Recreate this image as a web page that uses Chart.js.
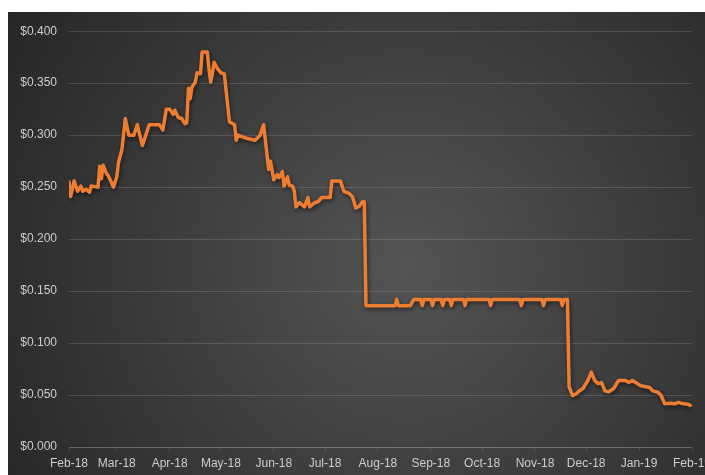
<!DOCTYPE html>
<html>
<head>
<meta charset="utf-8">
<script src="https://cdn.jsdelivr.net/npm/chart.js@4.4.1/dist/chart.umd.min.js"></script>
<style>
  html, body { margin: 0; padding: 0; background: #fff; overflow: hidden; }
  #wrap { position: absolute; left: 8px; top: 12px; width: 712px; height: 463px; }
</style>
</head>
<body>
<div id="wrap"><canvas id="chart"></canvas></div>
<script>
// price history
const dates = [
  '2018-02-01','2018-02-02','2018-02-04','2018-02-06','2018-02-08','2018-02-09','2018-02-11','2018-02-13',
  '2018-02-14','2018-02-18','2018-02-19','2018-02-20','2018-02-21','2018-02-23','2018-02-24','2018-02-26',
  '2018-02-27','2018-03-01','2018-03-02','2018-03-04','2018-03-06','2018-03-08','2018-03-11','2018-03-13',
  '2018-03-16','2018-03-18','2018-03-20','2018-03-26','2018-03-28','2018-03-30','2018-04-01','2018-04-03',
  '2018-04-04','2018-04-06','2018-04-08','2018-04-10','2018-04-11','2018-04-12','2018-04-13','2018-04-14',
  '2018-04-16','2018-04-17','2018-04-19','2018-04-20','2018-04-23','2018-04-24','2018-04-25','2018-04-26',
  '2018-04-27','2018-04-29','2018-05-01','2018-05-03','2018-05-06','2018-05-09','2018-05-10','2018-05-11',
  '2018-05-16','2018-05-21','2018-05-24','2018-05-26','2018-05-29','2018-05-30','2018-06-01','2018-06-03',
  '2018-06-04','2018-06-06','2018-06-07','2018-06-09','2018-06-10','2018-06-12','2018-06-13','2018-06-14',
  '2018-06-16','2018-06-19','2018-06-21','2018-06-22','2018-06-25','2018-06-27','2018-06-29','2018-07-04',
  '2018-07-05','2018-07-10','2018-07-12','2018-07-15','2018-07-17','2018-07-18','2018-07-19','2018-07-21',
  '2018-07-23','2018-07-24','2018-07-25','2018-08-11','2018-08-12','2018-08-13','2018-08-20','2018-08-22',
  '2018-08-26','2018-08-27','2018-08-28','2018-09-01','2018-09-02','2018-09-03','2018-09-07','2018-09-08',
  '2018-09-09','2018-09-12','2018-09-13','2018-09-14','2018-09-20','2018-09-21','2018-09-22','2018-10-05',
  '2018-10-06','2018-10-07','2018-10-23','2018-10-24','2018-10-25','2018-11-05','2018-11-06','2018-11-07',
  '2018-11-16','2018-11-17','2018-11-18','2018-11-20','2018-11-21','2018-11-23','2018-11-25','2018-11-27',
  '2018-11-29','2018-12-02','2018-12-04','2018-12-06','2018-12-08','2018-12-10','2018-12-12','2018-12-14',
  '2018-12-17','2018-12-20','2018-12-24','2018-12-26','2018-12-28','2018-12-30','2019-01-02','2019-01-05',
  '2019-01-07','2019-01-09','2019-01-12','2019-01-14','2019-01-16','2019-01-19','2019-01-22','2019-01-24',
  '2019-01-27','2019-01-30','2019-01-31'
];
const prices = [
  0.255,0.241,0.256,0.246,0.251,0.246,0.248,0.245,
  0.251,0.250,0.270,0.258,0.271,0.263,0.261,0.254,
  0.250,0.260,0.274,0.286,0.316,0.300,0.300,0.310,
  0.290,0.300,0.310,0.310,0.305,0.325,0.325,0.320,
  0.324,0.317,0.316,0.311,0.312,0.345,0.335,0.346,
  0.351,0.360,0.359,0.380,0.380,0.364,0.351,0.359,
  0.370,0.364,0.360,0.359,0.313,0.310,0.295,0.300,
  0.297,0.295,0.300,0.310,0.267,0.275,0.257,0.262,
  0.259,0.265,0.251,0.260,0.252,0.251,0.246,0.231,
  0.235,0.231,0.240,0.231,0.235,0.236,0.240,0.240,
  0.256,0.256,0.246,0.244,0.241,0.236,0.230,0.2315,
  0.236,0.236,0.136,0.136,0.142,0.136,0.136,0.142,
  0.142,0.136,0.142,0.142,0.136,0.142,0.142,0.136,
  0.142,0.142,0.136,0.142,0.142,0.136,0.142,0.142,
  0.136,0.142,0.142,0.136,0.142,0.142,0.136,0.142,
  0.142,0.136,0.142,0.142,0.058,0.0495,0.051,0.054,
  0.056,0.064,0.072,0.064,0.061,0.062,0.054,0.053,
  0.056,0.064,0.064,0.062,0.064,0.062,0.059,0.058,
  0.0575,0.054,0.0527,0.0495,0.0415,0.042,0.0415,0.043,
  0.0415,0.041,0.040
];

const monthStarts = ['2018-02-01','2018-03-01','2018-04-01','2018-05-01','2018-06-01','2018-07-01',
  '2018-08-01','2018-09-01','2018-10-01','2018-11-01','2018-12-01','2019-01-01','2019-02-01'];
const monthLabels = ['Feb-18','Mar-18','Apr-18','May-18','Jun-18','Jul-18',
  'Aug-18','Sep-18','Oct-18','Nov-18','Dec-18','Jan-19','Feb-19'];

const yMin = 0, yMax = 0.4, yStep = 0.05;

// days since the first month start
const t0 = Date.parse(monthStarts[0] + 'T00:00:00Z');
const dayOf = s => Math.round((Date.parse(s + 'T00:00:00Z') - t0) / 86400000);
const monthDays = monthStarts.map(dayOf);

const points = dates.map((d, i) => ({ x: dayOf(d), y: prices[i] }));

const gridColor = 'rgba(255,255,255,0.14)';
const textColor = '#cdcdcd';

const bgPlugin = {
  id: 'bg',
  beforeDraw(chart) {
    const { ctx, width, height } = chart;
    const cx = width * 0.56, cy = height * 0.55;
    const g = ctx.createRadialGradient(cx, cy, 0, cx, cy, Math.hypot(cx, cy) * 1.02);
    g.addColorStop(0, '#545454');
    g.addColorStop(1, '#252525');
    ctx.save();
    ctx.fillStyle = g;
    ctx.fillRect(0, 0, width, height);
    ctx.restore();
  }
};

const shadowPlugin = {
  id: 'lineShadow',
  beforeDatasetsDraw(chart) {
    const ctx = chart.ctx;
    ctx.save();
    ctx.shadowColor = 'rgba(0,0,0,0.55)';
    ctx.shadowBlur = 4;
    ctx.shadowOffsetX = 1;
    ctx.shadowOffsetY = 2;
  },
  afterDatasetsDraw(chart) {
    chart.ctx.restore();
  }
};

new Chart(document.getElementById('chart'), {
  type: 'line',
  data: {
    datasets: [{
      data: points,
      borderColor: '#ED7D31',
      borderWidth: 3.5,
      borderJoinStyle: 'round',
      borderCapStyle: 'round',
      pointRadius: 0,
      tension: 0,
      fill: false
    }]
  },
  options: {
    responsive: true,
    maintainAspectRatio: false,
    animation: false,
    layout: { padding: { top: 17, left: 0, right: 28, bottom: 0 } },
    plugins: { legend: { display: false }, tooltip: { enabled: false } },
    scales: {
      x: {
        type: 'linear',
        min: monthDays[0],
        max: monthDays[monthDays.length - 1],
        afterBuildTicks: s => { s.ticks = monthDays.map(v => ({ value: v })); },
        afterFit: s => { s.height = 28; },
        ticks: {
          autoSkip: false,
          maxRotation: 0,
          padding: 5,
          color: textColor,
          font: { family: 'Liberation Sans', size: 12 },
          callback: (v) => monthLabels[monthDays.indexOf(v)] ?? ''
        },
        grid: { drawOnChartArea: false, drawTicks: true, tickLength: 4, color: gridColor },
        border: { display: true, color: gridColor }
      },
      y: {
        min: yMin,
        max: yMax,
        afterFit: s => { s.width = 61; },
        ticks: {
          stepSize: yStep,
          padding: 12,
          color: textColor,
          font: { family: 'Liberation Sans', size: 12 },
          callback: v => '$' + Number(v).toFixed(3)
        },
        grid: { color: gridColor, drawTicks: false },
        border: { display: false }
      }
    }
  },
  plugins: [bgPlugin, shadowPlugin]
});
</script>
</body>
</html>
